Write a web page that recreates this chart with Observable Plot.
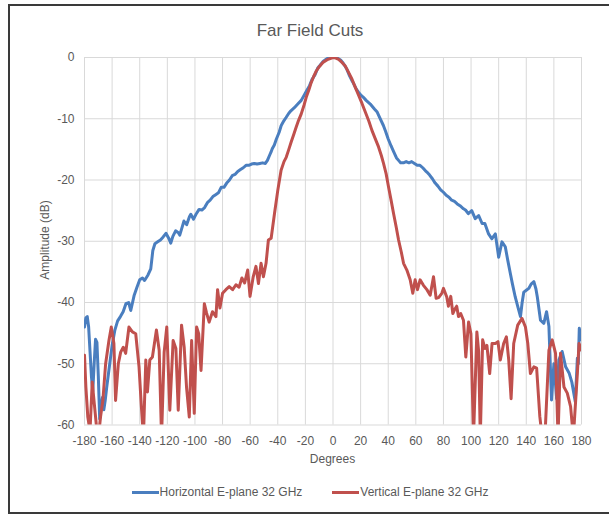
<!DOCTYPE html>
<html>
<head>
<meta charset="utf-8">
<script src="https://cdn.jsdelivr.net/npm/d3@7"></script>
<script src="https://cdn.jsdelivr.net/npm/@observablehq/plot@0.6"></script>
<style>
  html, body { margin: 0; padding: 0; background: #fff; }
  #wrap { position: relative; width: 609px; height: 515px; overflow: hidden; font-family: "Liberation Sans", Arial, sans-serif; color: #595959; }
  #frame { position: absolute; left: 8px; top: 4px; width: 640px; height: 506px; border-left: 2px solid #3a3a3a; border-top: 2px solid #3a3a3a; border-bottom: 2px solid #3a3a3a; }
  #title { position: absolute; left: 0; width: 620px; top: 21px; text-align: center; font-size: 17px; }
  #chart { position: absolute; left: 0; top: 0; }
  #ylab { position: absolute; left: 45px; top: 240px; transform: translate(-50%, -50%) rotate(-90deg); font-size: 12px; white-space: nowrap; }
  #xlab { position: absolute; left: 0; width: 665px; top: 452px; text-align: center; font-size: 12px; }
  #legend { position: absolute; left: 0; width: 620px; top: 485px; display: flex; justify-content: center; gap: 30px; font-size: 12px; }
  .item { display: flex; align-items: center; }
  .sw { display: inline-block; width: 27px; height: 3px; margin-right: 1px; }
</style>
</head>
<body>
<div id="wrap">
  <div id="frame"></div>
  <div id="chart"></div>
  <div id="title">Far Field Cuts</div>
  <div id="ylab">Amplitude (dB)</div>
  <div id="xlab">Degrees</div>
  <div id="legend"></div>
</div>
<script>
const seriesNames = ["Horizontal E-plane 32 GHz", "Vertical E-plane 32 GHz"];
const seriesColors = ["#4a7ebf", "#c0504d"];
const xTicks = [-180,-160,-140,-120,-100,-80,-60,-40,-20,0,20,40,60,80,100,120,140,160,180];
const yTicks = [0,-10,-20,-30,-40,-50,-60];

const hDeg = [-180,-179,-178,-177,-176,-175,-174,-173,-172,-171,-170,-169,-168,-167,-166,-165,-164,-162,-160,-158,-156,-154,-152,-150,-148,-146.5,-144,-142,-140,-138,-136.5,-134,-132,-130.5,-129,-127,-125,-123,-121,-119,-117.5,-116,-114,-112,-111,-109,-108,-106,-104,-103,-101,-99,-97,-95,-93,-91,-89,-87,-85,-83,-81,-79,-77,-75,-73,-71,-69,-67,-65,-63,-61,-59,-57,-55,-53,-51,-49,-47.5,-46,-45,-44,-42.5,-41,-39,-37.5,-35.5,-34,-32,-30.5,-28,-25.5,-23,-21,-19,-17,-15,-13,-11,-9.5,-7,-5,-3,-1,0,2,4,5.5,7,9,10,12,14,15,17,18.6,20,22,24,27,30,32,34,36.5,38,40,42,44,46,47.5,49,51,53,55,57,59,61,63,65,67,68,70,72,74,76,78,80,82,84,86,88,90,92,94.5,96,98,100.5,103,105.5,108,110,112.7,115,117.6,120,122.4,124.8,126.5,128.5,130,132,134,135.8,137,138.2,140,141.8,143.5,145.5,147,148,150.3,152.7,154.7,156.4,158.3,160,162,163.6,166,168.5,171,173,175.5,177,177.7,178.4,180];
const hDb = [-44,-42.5,-42.3,-44,-48,-52,-54.5,-50,-46,-46.5,-52,-59,-57,-55.5,-57.5,-56,-54,-50.5,-47,-44.5,-43,-42.3,-41.5,-40.2,-40,-41.3,-38.8,-37.5,-36.3,-36,-36.4,-35.5,-34.5,-31.5,-30.4,-30.1,-29.8,-29.3,-28.7,-29.5,-30.3,-29.2,-28.3,-28.6,-29,-27.5,-26.7,-27.3,-26,-25.6,-26.4,-25.5,-24.8,-24.9,-24.5,-23.7,-23.3,-22.7,-22.4,-22.1,-21.2,-21.2,-20.5,-20,-19.3,-19.1,-18.6,-18.3,-18,-17.6,-17.6,-17.4,-17.3,-17.4,-17.3,-17.2,-17.3,-16.8,-16,-15.5,-14.9,-14.3,-13.3,-12.2,-11.1,-10.3,-9.8,-9.1,-8.7,-8.2,-7.6,-7,-6.2,-5.4,-4.6,-3.5,-2.8,-1.7,-1.3,-0.6,-0.3,0,0,0,0,-0.2,-0.4,-0.8,-1.5,-1.9,-3,-3.9,-4.3,-5.2,-5.7,-6.1,-6.5,-7,-7.6,-8.4,-8.9,-9.9,-11.1,-12,-13.3,-14.4,-15.4,-16.4,-16.8,-17.2,-17.2,-17,-17.2,-17,-17.3,-17.6,-17.6,-18,-18.5,-18.7,-19.2,-19.8,-20.5,-21,-21.6,-22,-22.5,-22.8,-23.3,-23.5,-23.9,-24.2,-24.7,-24.9,-25.5,-25,-26.3,-25.8,-27.1,-27.1,-28.8,-29.6,-28.8,-32.6,-30.1,-30.9,-33,-35.3,-37,-39.1,-40.8,-42.3,-40,-38.3,-38,-37.7,-37,-36.6,-37.8,-39.1,-42.9,-43.4,-41.5,-43.9,-55.9,-50,-55.7,-49.4,-48,-50.5,-51.5,-53,-56.2,-49.1,-50,-44.2,-46.1];

const vDeg = [-180,-179,-177.6,-176,-174.4,-172.7,-171,-169,-168.4,-166.7,-164.7,-162.3,-160.6,-158.7,-157.5,-155.5,-153.8,-151.9,-150.2,-147.8,-145.3,-142.9,-140.5,-138.8,-137.3,-135.6,-134.4,-132.7,-130.8,-127.9,-125.9,-124.2,-122.3,-120.4,-118.2,-115.8,-113.8,-112.1,-109.7,-107.8,-106.1,-104.1,-102.4,-100.5,-98.8,-97.3,-95.6,-93.2,-91.6,-89.7,-87.3,-84.8,-83.6,-81.9,-80,-77.6,-75.2,-72.7,-70.3,-68,-66,-64,-61.8,-60.1,-57.8,-55.8,-54,-52.1,-50.4,-48.5,-46.8,-44.8,-42.4,-40,-37.6,-35.5,-33.9,-32,-30.3,-28.5,-26.7,-25,-23,-21,-19.4,-17.5,-15.8,-14,-12.1,-10,-7.3,-3.6,0,2,4.1,6.5,8.9,11,13.7,16,18.6,21,23.4,26,28.2,30.5,33,35,36.6,38.5,40.2,42,43.9,45.7,47.5,49.5,51.1,53.5,55.9,57.8,59.5,61.2,63.1,65.5,68,70.4,72.8,74.7,76.5,78.8,80,82.4,83.6,85.3,86.8,88,89.6,90.9,92.5,94.5,96.2,98.2,99.9,101.8,104.2,105.5,106.7,108.4,110,111.5,113.5,115.2,117.6,119.5,121.2,123.6,125.6,127.3,129,130.9,133.8,136.9,139.4,141.1,143,145.5,147.5,149.8,151.5,153.5,156.4,158.8,161.2,163,164.8,167.3,169.7,172.1,174.1,177,178.2,180];
const vDb = [-48.6,-53.8,-58.7,-61,-53,-57,-61,-60,-58.7,-56,-50,-46.2,-44,-46.7,-56,-50,-48.1,-47.3,-48.3,-44,-44.8,-45.1,-50.5,-57,-62,-49.4,-54.6,-49.4,-48.9,-44.5,-47.8,-62,-48.1,-44,-57.6,-46.2,-47.5,-57.6,-43.7,-47.3,-53.8,-58.7,-46.2,-58.1,-44,-45.1,-51.1,-40.2,-41.7,-43.2,-41.5,-42.3,-37.9,-40.9,-38.5,-37.9,-37.4,-37.9,-37.1,-37.5,-36,-36.8,-34.7,-39,-35.8,-34.1,-36.9,-33.6,-35.8,-33.6,-29.8,-29.5,-25.5,-21.7,-18.4,-17,-16.3,-15,-13.8,-12.6,-11.4,-10.3,-9.2,-7.8,-6.5,-5.3,-4.1,-3.1,-2.2,-1.5,-0.8,-0.3,0,-0.1,-0.3,-0.8,-1.4,-2.3,-3.5,-4.8,-6.2,-7.5,-8.9,-10.4,-11.9,-13.2,-14.6,-16,-17.3,-19,-21.1,-23.2,-25.5,-27.6,-29.8,-31.8,-33.6,-34.7,-36.3,-38.5,-36.3,-37.9,-36.3,-37.2,-37.9,-38.8,-35.8,-39.3,-39.2,-38.5,-37.7,-39.1,-40.6,-39,-41.8,-41.2,-40.6,-42.3,-41.8,-42.9,-48.9,-43.2,-45.1,-62,-44.8,-48,-62,-46.1,-47.5,-47,-51.6,-46.7,-46.7,-46.4,-49.4,-46.7,-45.6,-49.4,-55.7,-46.7,-43.7,-42.6,-44,-46.7,-51.6,-50.5,-50.7,-58.6,-62,-62,-47.8,-46.1,-48.3,-62,-48.3,-53.8,-54.8,-57,-62,-51.6,-46.7,-47.8];

const hData = hDeg.map((d, i) => ({deg: d, db: hDb[i]}));
const vData = vDeg.map((d, i) => ({deg: d, db: vDb[i]}));

const grid = {stroke: "#d9d9d9", strokeOpacity: 1, strokeWidth: 1};
const chart = Plot.plot({
  width: 609,
  height: 475,
  marginLeft: 84,
  marginRight: 28,
  marginTop: 57,
  marginBottom: 50.5,
  style: {fontFamily: "Liberation Sans, Arial, sans-serif", fontSize: "12px", color: "#595959", background: "transparent"},
  x: {domain: [-180, 180]},
  y: {domain: [-60, 0]},
  marks: [
    Plot.gridX(xTicks, grid),
    Plot.gridY(yTicks, grid),
    Plot.axisX(xTicks, {tickSize: 0, tickPadding: 11, label: null, tickFormat: d => String(d)}),
    Plot.axisY(yTicks, {tickSize: 0, tickPadding: 10, label: null, tickFormat: d => String(d)}),
    Plot.line(hData, {x: "deg", y: "db", stroke: seriesColors[0], strokeWidth: 3, strokeLinejoin: "round", clip: true}),
    Plot.line(vData, {x: "deg", y: "db", stroke: seriesColors[1], strokeWidth: 3, strokeLinejoin: "round", clip: true})
  ]
});
document.getElementById("chart").appendChild(chart);

const legend = document.getElementById("legend");
seriesNames.forEach((name, i) => {
  const item = document.createElement("div");
  item.className = "item";
  const sw = document.createElement("span");
  sw.className = "sw";
  sw.style.background = seriesColors[i];
  const t = document.createElement("span");
  t.textContent = name;
  item.appendChild(sw);
  item.appendChild(t);
  legend.appendChild(item);
});
</script>
</body>
</html>
